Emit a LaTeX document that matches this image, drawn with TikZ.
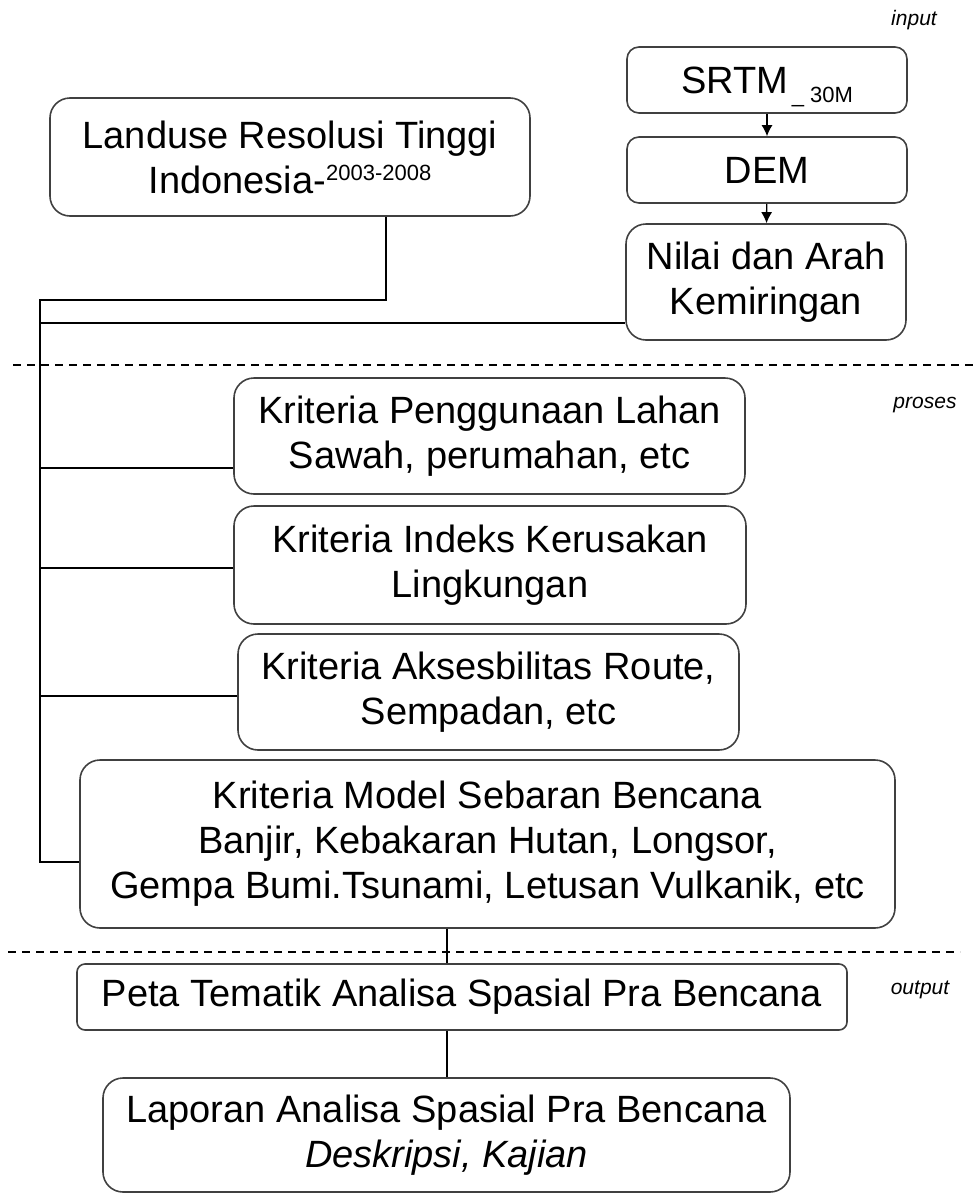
\documentclass[tikz,border=0pt]{standalone}
\usepackage{fontspec}
\setmainfont{Liberation Sans}
\usetikzlibrary{arrows.meta}
\begin{document}
\begin{tikzpicture}[x=1pt,y=-1pt,
    box/.style={draw=black!75, line width=1.6pt, rounded corners=20pt, align=center,
        inner sep=0pt, font=\fontsize{38}{45}\selectfont},
    tag/.style={font=\fontsize{21}{21}\selectfont\itshape},
    link/.style={line width=1.3pt}]
    \useasboundingbox (0,0) rectangle (979,1194);

    % input
    \node[box, rounded corners=12pt, minimum width=280pt, minimum height=66pt] (srtm) at (767,80)
        {SRTM\raisebox{-9pt}[0pt][0pt]{\fontsize{22}{22}\selectfont\,\_ 30M}};
    \node[box, rounded corners=12pt, minimum width=280pt, minimum height=66pt] (dem) at (767,170) {DEM};
    \node[box, minimum width=280pt, minimum height=116pt] (nilai) at (766,282) {Nilai dan Arah\\Kemiringan};
    \node[box, minimum width=480pt, minimum height=118pt] (landuse) at (290,157)
        {Landuse Resolusi Tinggi\\Indonesia-\raisebox{13pt}{\fontsize{22}{22}\selectfont 2003-2008}};

    % proses
    \node[box, minimum width=511pt, minimum height=116pt] (guna) at (489.5,436)
        {Kriteria Penggunaan Lahan\\Sawah, perumahan, etc};
    \node[box, minimum width=512pt, minimum height=118pt] (indeks) at (490,565)
        {Kriteria Indeks Kerusakan\\Lingkungan};
    \node[box, minimum width=501pt, minimum height=116pt] (akses) at (488.5,692)
        {Kriteria Aksesbilitas Route,\\Sempadan, etc};
    \node[box, minimum width=815pt, minimum height=168pt] (model) at (487.5,844)
        {Kriteria Model Sebaran Bencana\\Banjir, Kebakaran Hutan, Longsor,\\Gempa Bumi.Tsunami, Letusan Vulkanik, etc};

    % output
    \node[box, rounded corners=8pt, minimum width=770pt, minimum height=66pt] (peta) at (462,997)
        {Peta Tematik Analisa Spasial Pra Bencana};
    \node[box, minimum width=687pt, minimum height=114pt] (laporan) at (446.5,1135)
        {Laporan Analisa Spasial Pra Bencana\\\textit{Deskripsi, Kajian}};

    \node[tag] (lblin) at (914,20) {input};
    \node[tag] (lblpro) at (925,405) {proses};
    \node[tag] (lblout) at (920,990) {output};

    \draw[dashed, line width=1.2pt, dash pattern=on 8pt off 6pt] (13,365) -- (979,365);
    \draw[dashed, line width=1.2pt, dash pattern=on 8pt off 6pt] (8,952) -- (960,952);

    % connectors
    \coordinate (trunk) at (40,300);
    \coordinate (lux) at (386,0);
    \coordinate (mid) at (447,0);
    \draw[link, -{Latex[length=11pt,width=11pt]}] (srtm) -- (dem);
    \draw[link, -{Latex[length=11pt,width=11pt]}] (dem) -- (nilai);
    \draw[link] (landuse.south -| lux) |- (trunk) |- ([yshift=-18pt]model.west);
    \draw[link] ([yshift=-41pt]nilai.west) -| (trunk);
    \draw[link] ([yshift=-32pt]guna.west) -| (trunk);
    \draw[link] ([yshift=-3pt]indeks.west) -| (trunk);
    \draw[link] ([yshift=-4pt]akses.west) -| (trunk);
    \draw[link] (model.south -| mid) -- (peta.north -| mid);
    \draw[link] (peta.south -| mid) -- (laporan.north -| mid);
\end{tikzpicture}
\end{document}
